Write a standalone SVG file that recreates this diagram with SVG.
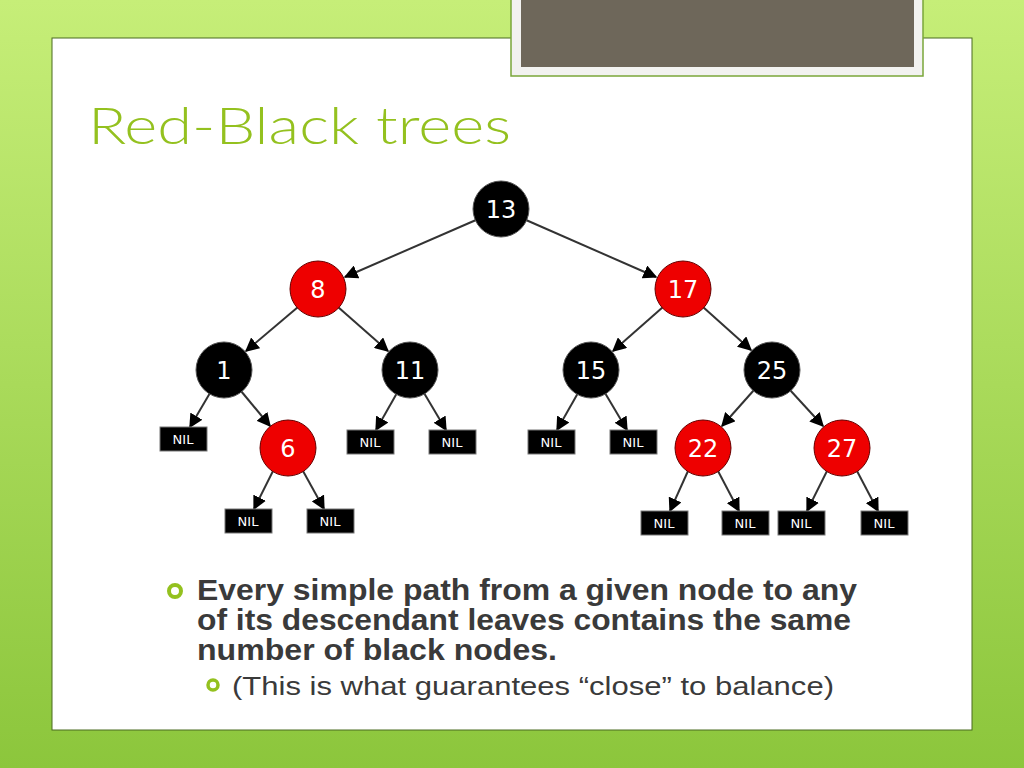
<svg xmlns="http://www.w3.org/2000/svg" width="1024" height="768" viewBox="0 0 1024 768">
<defs>
<linearGradient id="bg" x1="0" y1="0" x2="0" y2="1"><stop offset="0" stop-color="#c6ee78"/><stop offset="1" stop-color="#8cc63c"/></linearGradient>
<marker id="ah" viewBox="0 0 10 10" refX="9" refY="5" markerWidth="7" markerHeight="7" orient="auto" markerUnits="strokeWidth"><path d="M0,0 L10,5 L0,10 z" fill="#000"/></marker>
<style>
.b{fill:#000;stroke:#555;stroke-width:1}
.r{fill:#ee0000;stroke:#600;stroke-width:1}
.t{font-family:"DejaVu Sans",sans-serif;font-size:24px;fill:#fff;text-anchor:middle}
.n{fill:#000;stroke:#777;stroke-width:1}
.nt{font-family:"DejaVu Sans",sans-serif;font-size:13px;fill:#fff;text-anchor:middle}
.e line{stroke:#333;stroke-width:2;marker-end:url(#ah)}
</style>
</defs>
<rect width="1024" height="768" fill="url(#bg)"/>
<rect x="52" y="38" width="920" height="692" fill="#fff" stroke="#4a6a20" stroke-width="1"/>
<rect x="511" y="-2" width="412" height="78" fill="#f2f2f0" stroke="#7aa63a" stroke-width="1.5"/>
<rect x="521" y="-2" width="393" height="69" fill="#6e675a"/>
<text x="88" y="144" font-family="Lato, 'Open Sans', sans-serif" font-size="52" font-weight="300" fill="#94c11f" textLength="423" lengthAdjust="spacingAndGlyphs">Red-Black trees</text>
<g class="e" id="connectors">
<line x1="476" y1="220" x2="345" y2="277"/>
<line x1="526" y1="220" x2="656" y2="277"/>
<line x1="298" y1="307" x2="246" y2="351"/>
<line x1="338" y1="307" x2="388" y2="351"/>
<line x1="663" y1="307" x2="613" y2="351"/>
<line x1="703" y1="307" x2="751" y2="350"/>
<line x1="210" y1="393" x2="190" y2="427"/>
<line x1="241" y1="391" x2="270" y2="426"/>
<line x1="397" y1="393" x2="376" y2="430"/>
<line x1="424" y1="393" x2="446" y2="430"/>
<line x1="578" y1="393" x2="557" y2="430"/>
<line x1="605" y1="393" x2="627" y2="430"/>
<line x1="754" y1="390" x2="722" y2="426"/>
<line x1="790" y1="390" x2="823" y2="426"/>
<line x1="273" y1="471" x2="254" y2="509"/>
<line x1="303" y1="471" x2="324" y2="509"/>
<line x1="688" y1="471" x2="670" y2="511"/>
<line x1="718" y1="471" x2="739" y2="511"/>
<line x1="827" y1="471" x2="807" y2="511"/>
<line x1="857" y1="471" x2="878" y2="511"/>
</g>
<g id="n13"><circle class="b" cx="501" cy="209" r="28"/><text class="t" x="501" y="218">13</text></g>
<g id="n8"><circle class="r" cx="318" cy="289" r="28"/><text class="t" x="318" y="298">8</text></g>
<g id="n17"><circle class="r" cx="683" cy="289" r="28"/><text class="t" x="683" y="298">17</text></g>
<g id="n1"><circle class="b" cx="224" cy="370" r="28"/><text class="t" x="224" y="379">1</text></g>
<g id="n11"><circle class="b" cx="410" cy="370" r="28"/><text class="t" x="410" y="379">11</text></g>
<g id="n15"><circle class="b" cx="591" cy="370" r="28"/><text class="t" x="591" y="379">15</text></g>
<g id="n25"><circle class="b" cx="772" cy="370" r="28"/><text class="t" x="772" y="379">25</text></g>
<g id="n6"><circle class="r" cx="288" cy="448" r="28"/><text class="t" x="288" y="457">6</text></g>
<g id="n22"><circle class="r" cx="703" cy="448" r="28"/><text class="t" x="703" y="457">22</text></g>
<g id="n27"><circle class="r" cx="842" cy="448" r="28"/><text class="t" x="842" y="457">27</text></g>
<g id="nil1"><rect class="n" x="160" y="427" width="47" height="24"/><text class="nt" x="183" y="444">NIL</text></g>
<g id="nil2"><rect class="n" x="347" y="430" width="47" height="24"/><text class="nt" x="370" y="447">NIL</text></g>
<g id="nil3"><rect class="n" x="429" y="430" width="47" height="24"/><text class="nt" x="452" y="447">NIL</text></g>
<g id="nil4"><rect class="n" x="528" y="430" width="47" height="24"/><text class="nt" x="551" y="447">NIL</text></g>
<g id="nil5"><rect class="n" x="610" y="430" width="47" height="24"/><text class="nt" x="633" y="447">NIL</text></g>
<g id="nil6"><rect class="n" x="225" y="509" width="47" height="24"/><text class="nt" x="248" y="526">NIL</text></g>
<g id="nil7"><rect class="n" x="307" y="509" width="47" height="24"/><text class="nt" x="330" y="526">NIL</text></g>
<g id="nil8"><rect class="n" x="641" y="511" width="47" height="24"/><text class="nt" x="664" y="528">NIL</text></g>
<g id="nil9"><rect class="n" x="722" y="511" width="47" height="24"/><text class="nt" x="745" y="528">NIL</text></g>
<g id="nil10"><rect class="n" x="778" y="511" width="47" height="24"/><text class="nt" x="801" y="528">NIL</text></g>
<g id="nil11"><rect class="n" x="861" y="511" width="47" height="24"/><text class="nt" x="884" y="528">NIL</text></g>
<circle cx="175" cy="591" r="6" fill="none" stroke="#94c11f" stroke-width="4"/>
<g font-family="'Liberation Sans', Arial, sans-serif" font-size="29" font-weight="bold" fill="#3a3a3a" lengthAdjust="spacingAndGlyphs">
<text x="197" y="600" textLength="660" lengthAdjust="spacingAndGlyphs">Every simple path from a given node to any</text>
<text x="197" y="630" textLength="654" lengthAdjust="spacingAndGlyphs">of its descendant leaves contains the same</text>
<text x="197" y="660" textLength="360" lengthAdjust="spacingAndGlyphs">number of black nodes.</text>
</g>
<circle cx="213" cy="685" r="5" fill="none" stroke="#94c11f" stroke-width="3.5"/>
<text x="232" y="695" font-family="'Liberation Sans', Arial, sans-serif" font-size="26" fill="#3a3a3a" textLength="602" lengthAdjust="spacingAndGlyphs">(This is what guarantees “close” to balance)</text>
</svg>
